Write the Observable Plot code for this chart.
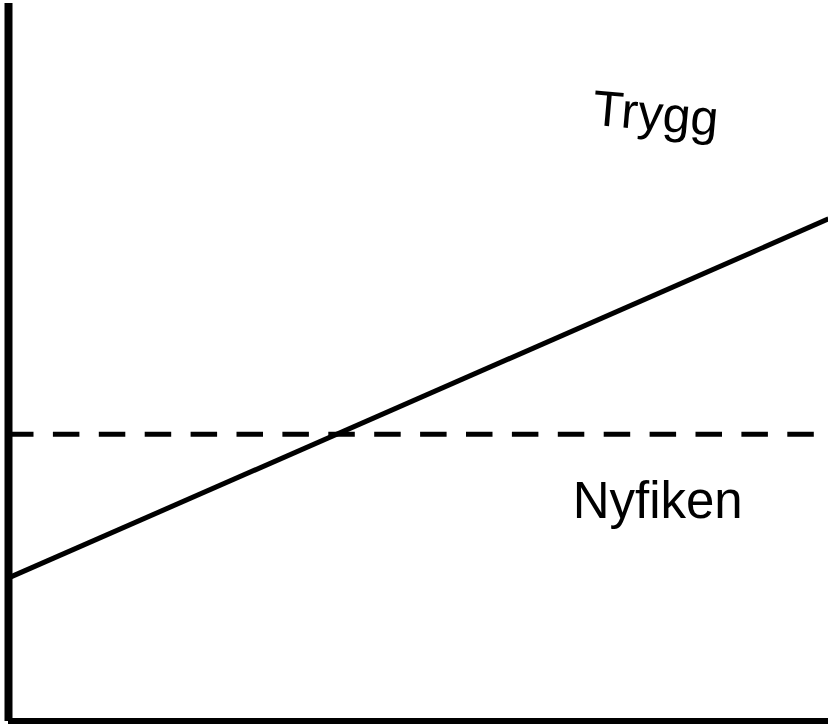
<!DOCTYPE html>
<html>
<head>
<meta charset="utf-8">
<script src="https://cdn.jsdelivr.net/npm/d3@7"></script>
<script src="https://cdn.jsdelivr.net/npm/@observablehq/plot@0.6"></script>
<style>
  html, body { margin: 0; padding: 0; background: #fff; }
  #chart svg { display: block; }
</style>
</head>
<body>
<div id="chart"></div>
<script>
// Axis extent (abstract units)
const xExtent = [0, 10];
const yExtent = [0, 10];

// Rising solid line: start and end
const lineX = [0, 10];
const lineY = [2, 7];

// Dashed threshold level
const thresholdY = [4];

// Region labels
const labelText = ["Trygg", "Nyfiken"];
const labelX = [7.11, 6.88];
const labelY = [8.31, 2.84];
const labelRotate = [5, 0];

const lineData = lineX.map((x, i) => ({x, y: lineY[i]}));
const labels = labelText.map((t, i) => ({text: t, x: labelX[i], y: labelY[i], rotate: labelRotate[i]}));

const chart = Plot.plot({
  width: 828,
  height: 724,
  margin: 0,
  style: {background: "#fff", fontFamily: "'Liberation Sans', Arial, sans-serif"},
  x: {domain: xExtent, range: [8, 828], axis: null},
  y: {domain: yExtent, range: [721, 3], axis: null},
  marks: [
    Plot.line(lineData, {x: "x", y: "y", stroke: "#000", strokeWidth: 5, strokeLinecap: "butt"}),
    Plot.ruleY(thresholdY, {x1: xExtent[0], x2: xExtent[1], stroke: "#000", strokeWidth: 5, strokeDasharray: "26.5,19.4", strokeDashoffset: 1}),
    Plot.text(labels.filter(d => d.rotate !== 0), {x: "x", y: "y", text: "text", rotate: labelRotate[0], textAnchor: "start", lineAnchor: "bottom", fontSize: 50, fill: "#000"}),
    Plot.text(labels.filter(d => d.rotate === 0), {x: "x", y: "y", text: "text", textAnchor: "start", lineAnchor: "bottom", fontSize: 51, fill: "#000"}),
    Plot.ruleY([yExtent[0]], {x1: xExtent[0], x2: xExtent[1], stroke: "#000", strokeWidth: 7}),
    Plot.ruleX([xExtent[0]], {y1: yExtent[0], y2: yExtent[1], stroke: "#000", strokeWidth: 8})
  ]
});
document.getElementById("chart").appendChild(chart);
</script>
</body>
</html>
